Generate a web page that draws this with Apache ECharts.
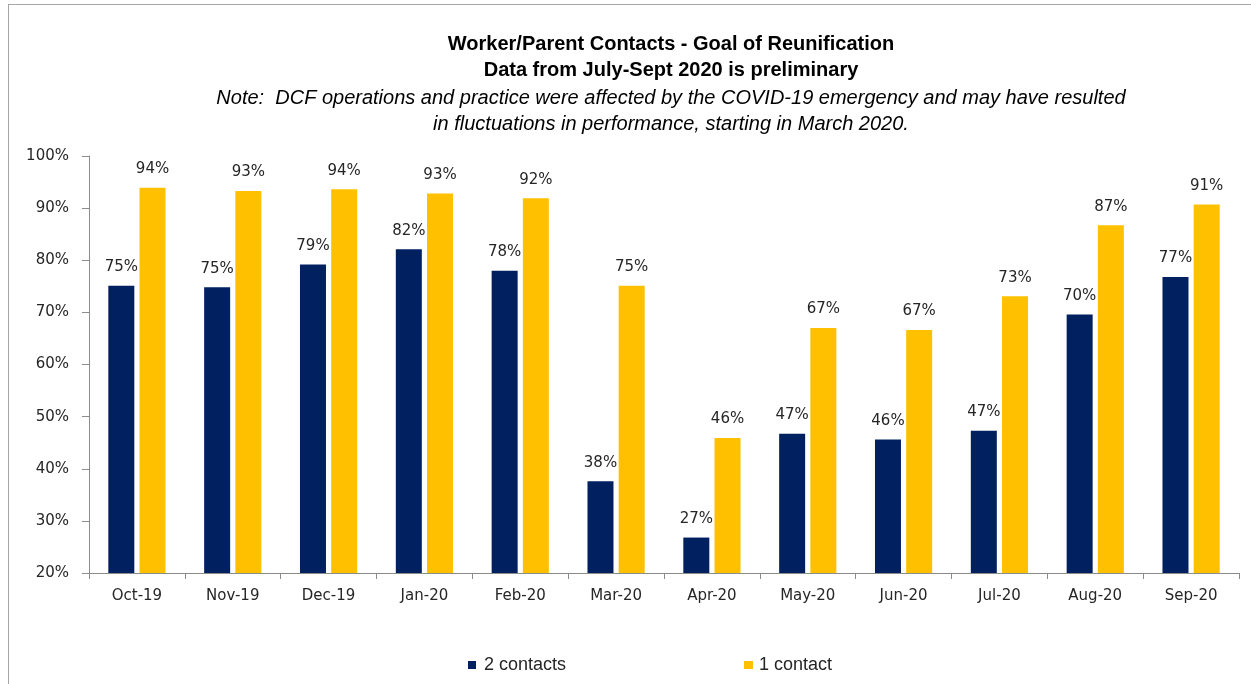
<!DOCTYPE html>
<html>
<head>
<meta charset="utf-8">
<script src="https://cdn.jsdelivr.net/npm/echarts@6/dist/echarts.min.js"></script>
<style>
  html, body { margin: 0; padding: 0; background: #fff; }
  #wrap { position: relative; width: 1251px; height: 684px; overflow: hidden; }
  #frame { position: absolute; left: 8px; top: 4px; width: 1300px; height: 760px; border-left: 1px solid #a6a6a6; border-top: 1px solid #a6a6a6; }
  #chart { position: absolute; left: 0; top: 0; width: 1251px; height: 684px; }
</style>
</head>
<body>
<div id="wrap">
  <div id="frame"></div>
  <div id="chart"></div>
</div>
<script>
// Monthly worker/parent contact rates (percent of cases)
const months = ['Oct-19', 'Nov-19', 'Dec-19', 'Jan-20', 'Feb-20', 'Mar-20', 'Apr-20', 'May-20', 'Jun-20', 'Jul-20', 'Aug-20', 'Sep-20'];
const twoContacts = [75.1, 74.8, 79.2, 82.1, 78.0, 37.6, 26.8, 46.7, 45.6, 47.3, 69.6, 76.8];
const oneContact = [93.9, 93.3, 93.6, 92.8, 91.9, 75.1, 45.9, 67.0, 66.6, 73.1, 86.7, 90.7];
const yTicks = { min: 20, max: 100, step: 10 };

const labelFont = 'DejaVu Sans';
const textColor = '#262626';
const axisColor = '#8c8c8c';

const chart = echarts.init(document.getElementById('chart'), null, { renderer: 'canvas' });

const valueLabel = {
  show: true,
  position: 'top',
  distance: 11,
  color: textColor,
  fontFamily: labelFont,
  fontSize: 15,
  formatter: p => Math.round(p.value) + '%'
};

function legendText(gap) {
  return { fontFamily: 'Liberation Sans', fontSize: 18, color: textColor, padding: [0, 0, 0, gap] };
}

chart.setOption({
  animation: false,
  backgroundColor: 'transparent',
  title: [
    {
      text: 'Worker/Parent Contacts - Goal of Reunification\nData from July-Sept 2020 is preliminary',
      left: 666, top: 26, textAlign: 'center',
      textStyle: { fontFamily: 'Liberation Sans', fontWeight: 'bold', fontSize: 20, lineHeight: 26, color: '#000' }
    },
    {
      text: 'Note:  DCF operations and practice were affected by the COVID-19 emergency and may have resulted\nin fluctuations in performance, starting in March 2020.',
      left: 666, top: 80, textAlign: 'center',
      textStyle: { fontFamily: 'Liberation Sans', fontStyle: 'italic', fontWeight: 'normal', fontSize: 20, lineHeight: 26, color: '#000' }
    }
  ],
  legend: [
    {
      data: ['2 contacts'], left: 468, top: 656, padding: 0, itemWidth: 8, itemHeight: 8, itemGap: 0,
      icon: 'rect', textStyle: legendText(3)
    },
    {
      data: ['1 contact'], left: 744, top: 656, padding: 0, itemWidth: 9, itemHeight: 8, itemGap: 0,
      icon: 'rect', textStyle: legendText(1)
    }
  ],
  grid: { left: 89, right: 12, top: 156, bottom: 111, containLabel: false },
  xAxis: {
    type: 'category',
    data: months,
    axisLine: { lineStyle: { color: axisColor, width: 1 } },
    axisTick: { show: true, length: 6, lineStyle: { color: axisColor } },
    axisLabel: { color: textColor, fontFamily: labelFont, fontSize: 15, margin: 16 }
  },
  yAxis: {
    type: 'value',
    min: yTicks.min, max: yTicks.max, interval: yTicks.step,
    axisLine: { show: true, lineStyle: { color: axisColor, width: 1 } },
    axisTick: { show: true, length: 7, lineStyle: { color: axisColor } },
    splitLine: { show: false },
    axisLabel: { color: textColor, fontFamily: labelFont, fontSize: 15, margin: 20, formatter: '{value}%' }
  },
  series: [
    {
      name: '2 contacts', type: 'bar', data: twoContacts,
      barWidth: 26, barGap: '20%',
      itemStyle: { color: '#002060' },
      label: valueLabel
    },
    {
      name: '1 contact', type: 'bar', data: oneContact,
      barWidth: 26,
      itemStyle: { color: '#FFC000' },
      label: valueLabel
    }
  ]
});
</script>
</body>
</html>
